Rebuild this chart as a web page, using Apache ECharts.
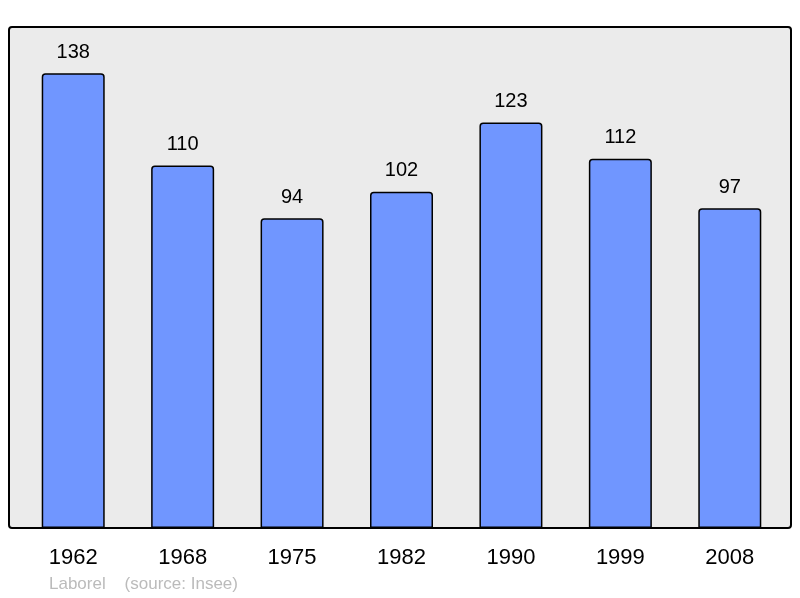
<!DOCTYPE html>
<html>
<head>
<meta charset="utf-8">
<script src="https://cdn.jsdelivr.net/npm/echarts@6/dist/echarts.min.js"></script>
<style>
  html, body { margin: 0; padding: 0; background: #fff; }
  #chart { width: 800px; height: 598px; }
</style>
</head>
<body>
<div id="chart"></div>
<script>
// data
var years = ['1962', '1968', '1975', '1982', '1990', '1999', '2008'];
var population = [138, 110, 94, 102, 123, 112, 97];

var myChart = echarts.init(document.getElementById('chart'));

var option = {
    animation: false,
    grid: {
        left: 18.5,
        right: 15.5,
        top: 27,
        bottom: 70
    },
    graphic: [
        {
            // plot background
            type: 'rect',
            z: -10,
            shape: { x: 9, y: 27, width: 782, height: 501, r: 3 },
            style: { fill: '#ebebeb', stroke: 'none' }
        },
        {
            // frame on top
            type: 'rect',
            z: 100,
            shape: { x: 9, y: 27, width: 782, height: 501, r: 3 },
            style: { fill: 'none', stroke: '#000', lineWidth: 2 }
        },
        {
            type: 'text',
            left: 49,
            top: 576,
            style: {
                text: 'Laborel    (source: Insee)',
                fill: '#bbbbbb',
                font: '17px "Liberation Sans", Arial, sans-serif'
            }
        }
    ],
    xAxis: {
        type: 'category',
        data: years,
        axisLine: { show: false },
        axisTick: { show: false },
        axisLabel: {
            margin: 19,
            color: '#000',
            fontSize: 22,
            fontFamily: '"Liberation Sans", Arial, sans-serif'
        }
    },
    yAxis: {
        type: 'value',
        min: 0,
        max: 152,
        show: false,
        splitLine: { show: false }
    },
    series: [{
        type: 'bar',
        data: population,
        barWidth: 63,
        itemStyle: {
            color: '#7096ff',
            borderColor: '#000',
            borderWidth: 1.5,
            borderRadius: [3, 3, 0, 0]
        },
        label: {
            show: true,
            position: 'top',
            distance: 11,
            color: '#000',
            fontSize: 20,
            fontFamily: '"Liberation Sans", Arial, sans-serif'
        }
    }]
};

myChart.setOption(option);
</script>
</body>
</html>
